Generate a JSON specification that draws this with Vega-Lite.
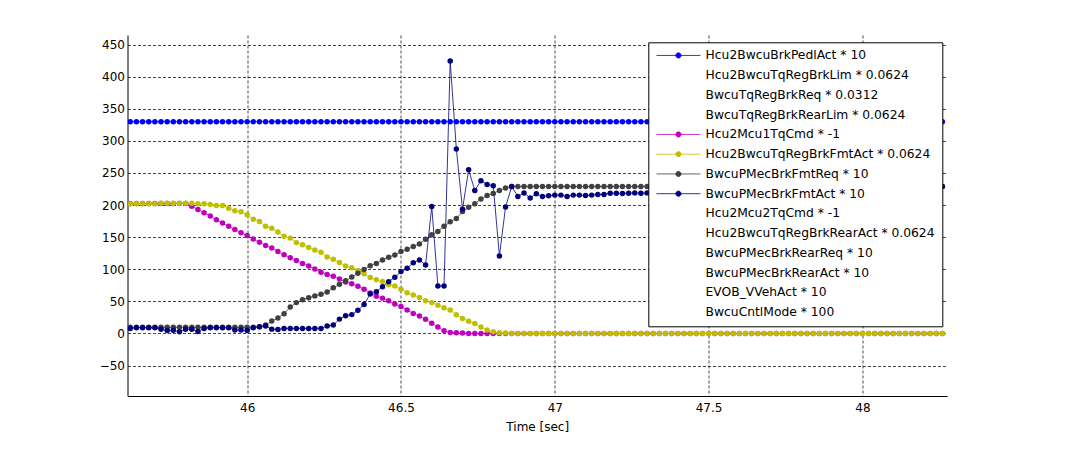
{
"$schema": "https://vega.github.io/schema/vega-lite/v6.json",
"autosize": {"type": "none"},
"padding": {"left": 127.5, "top": 35, "right": 141, "bottom": 54},
"width": 819.5,
"height": 361,
"background": "#ffffff",
"config": {"view": {"stroke": null}, "font": "DejaVu Sans"},
"datasets": {
"names": [
{"k": "a", "name": "Hcu2BwcuBrkPedlAct * 10", "o": 1},
{"k": "m", "name": "Hcu2Mcu1TqCmd * -1", "o": 2},
{"k": "y", "name": "Hcu2BwcuTqRegBrkFmtAct * 0.0624", "o": 3},
{"k": "g", "name": "BwcuPMecBrkFmtReq * 10", "o": 4},
{"k": "n", "name": "BwcuPMecBrkFmtAct * 10", "o": 5}
]
},
"data": {"values": [
{"t":45.62,"a":330,"m":202.5,"y":202,"g":9.5,"n":7.5},
{"t":45.64,"a":330,"m":202.5,"y":202,"g":9.5,"n":9},
{"t":45.66,"a":330,"m":202.5,"y":202,"g":9.5,"n":9},
{"t":45.68,"a":330,"m":202.5,"y":202,"g":9.5,"n":9},
{"t":45.70,"a":330,"m":202.5,"y":202,"g":9.5,"n":9},
{"t":45.72,"a":330,"m":202.5,"y":203,"g":9.5,"n":6.5},
{"t":45.74,"a":330,"m":202.5,"y":203,"g":9.5,"n":4.5},
{"t":45.76,"a":330,"m":202.5,"y":203,"g":9.5,"n":5},
{"t":45.78,"a":330,"m":202.5,"y":203,"g":9.5,"n":2.5},
{"t":45.80,"a":330,"m":202.5,"y":203,"g":9.5,"n":6.5},
{"t":45.82,"a":330,"m":198,"y":203,"g":9.5,"n":6.5},
{"t":45.84,"a":330,"m":193,"y":202,"g":9.5,"n":3},
{"t":45.86,"a":330,"m":188,"y":202,"g":9.5,"n":7.8},
{"t":45.88,"a":330,"m":183,"y":201,"g":9.5,"n":9},
{"t":45.90,"a":330,"m":177,"y":199.5,"g":9.5,"n":9},
{"t":45.92,"a":330,"m":172,"y":199.5,"g":9.5,"n":9},
{"t":45.94,"a":330,"m":167,"y":195,"g":9.5,"n":9},
{"t":45.96,"a":330,"m":162,"y":191,"g":9.5,"n":5.2},
{"t":45.98,"a":330,"m":157,"y":189.5,"g":9.5,"n":5.2},
{"t":46.00,"a":330,"m":152.5,"y":185,"g":9.5,"n":4.5},
{"t":46.02,"a":330,"m":147,"y":178,"g":9.5,"n":8.8},
{"t":46.04,"a":330,"m":142,"y":174.5,"g":10.4,"n":10.5},
{"t":46.06,"a":330,"m":137,"y":167,"g":13,"n":11.5},
{"t":46.08,"a":330,"m":133,"y":164,"g":19.2,"n":6.7},
{"t":46.10,"a":330,"m":127.5,"y":158,"g":24,"n":6},
{"t":46.12,"a":330,"m":122.5,"y":151.5,"g":30.7,"n":7.8},
{"t":46.14,"a":330,"m":118,"y":148.5,"g":41,"n":7.8},
{"t":46.16,"a":330,"m":113.5,"y":141.5,"g":48,"n":7.8},
{"t":46.18,"a":330,"m":109,"y":138,"g":52.5,"n":7.8},
{"t":46.20,"a":330,"m":105,"y":134,"g":55.6,"n":7.8},
{"t":46.22,"a":330,"m":100.5,"y":130,"g":58.5,"n":7.8},
{"t":46.24,"a":330,"m":95.5,"y":126.5,"g":61.2,"n":7.8},
{"t":46.26,"a":330,"m":92,"y":119,"g":64.5,"n":11.4},
{"t":46.28,"a":330,"m":89,"y":115.5,"g":71,"n":13},
{"t":46.30,"a":330,"m":85,"y":110.5,"g":76.6,"n":22.3},
{"t":46.32,"a":330,"m":80,"y":105,"g":82,"n":27.5},
{"t":46.34,"a":330,"m":77.5,"y":102.5,"g":88,"n":29.3},
{"t":46.36,"a":330,"m":73.5,"y":98,"g":93.7,"n":36},
{"t":46.38,"a":330,"m":69,"y":93,"g":99.5,"n":45},
{"t":46.40,"a":330,"m":63,"y":87,"g":105.5,"n":61.4},
{"t":46.42,"a":330,"m":58,"y":83.5,"g":109,"n":65},
{"t":46.44,"a":330,"m":55,"y":81,"g":114.5,"n":72.8},
{"t":46.46,"a":330,"m":51,"y":76,"g":118.8,"n":80.7},
{"t":46.48,"a":330,"m":46,"y":74,"g":122.3,"n":87.5},
{"t":46.50,"a":330,"m":42,"y":69,"g":127.5,"n":96.3},
{"t":46.52,"a":330,"m":36.5,"y":63.5,"g":131.2,"n":101.5},
{"t":46.54,"a":330,"m":31,"y":60,"g":135.3,"n":110.3},
{"t":46.56,"a":330,"m":27,"y":56,"g":139.5,"n":114.5},
{"t":46.58,"a":330,"m":22,"y":51,"g":146.9,"n":106.7},
{"t":46.60,"a":330,"m":16,"y":48,"g":153.6,"n":197.8},
{"t":46.62,"a":330,"m":10,"y":44,"g":158.8,"n":73.9},
{"t":46.64,"a":330,"m":4,"y":40,"g":167,"n":73.9},
{"t":46.66,"a":330,"m":1.5,"y":36.4,"g":174,"n":424.4},
{"t":46.68,"a":330,"m":1,"y":29,"g":179,"n":287.5},
{"t":46.70,"a":330,"m":0.5,"y":23.4,"g":190,"n":193.7},
{"t":46.72,"a":330,"m":0,"y":19,"g":196.5,"n":255},
{"t":46.74,"a":330,"m":0,"y":15.5,"g":202,"n":222.8},
{"t":46.76,"a":330,"m":0,"y":10,"g":209.4,"n":238},
{"t":46.78,"a":330,"m":0,"y":5.2,"g":215,"n":232},
{"t":46.80,"a":330,"m":0,"y":2.5,"g":218,"n":230},
{"t":46.82,"a":330,"m":0,"y":1,"g":222.8,"n":120.8},
{"t":46.84,"a":330,"m":0,"y":0.5,"g":226.6,"n":197},
{"t":46.86,"a":330,"m":0,"y":0,"g":229,"n":229},
{"t":46.88,"a":330,"m":0,"y":0,"g":229,"n":213.5},
{"t":46.90,"a":330,"m":0,"y":0,"g":229,"n":218.7},
{"t":46.92,"a":330,"m":0,"y":0,"g":229,"n":211},
{"t":46.94,"a":330,"m":0,"y":0,"g":229,"n":217.7},
{"t":46.96,"a":330,"m":0,"y":0,"g":229,"n":213.5},
{"t":46.98,"a":330,"m":0,"y":0,"g":229,"n":214.5},
{"t":47.00,"a":330,"m":0,"y":0,"g":229,"n":215.5},
{"t":47.02,"a":330,"m":0,"y":0,"g":229,"n":215.5},
{"t":47.04,"a":330,"m":0,"y":0,"g":229,"n":213.5},
{"t":47.06,"a":330,"m":0,"y":0,"g":229,"n":215.5},
{"t":47.08,"a":330,"m":0,"y":0,"g":229,"n":215.5},
{"t":47.10,"a":330,"m":0,"y":0,"g":229,"n":215},
{"t":47.12,"a":330,"m":0,"y":0,"g":229,"n":215.5},
{"t":47.14,"a":330,"m":0,"y":0,"g":229,"n":216.5},
{"t":47.16,"a":330,"m":0,"y":0,"g":229,"n":216.5},
{"t":47.18,"a":330,"m":0,"y":0,"g":229,"n":218.5},
{"t":47.20,"a":330,"m":0,"y":0,"g":229,"n":218.5},
{"t":47.22,"a":330,"m":0,"y":0,"g":229,"n":218},
{"t":47.24,"a":330,"m":0,"y":0,"g":229,"n":218.5},
{"t":47.26,"a":330,"m":0,"y":0,"g":229,"n":219},
{"t":47.28,"a":330,"m":0,"y":0,"g":229,"n":218.5},
{"t":47.30,"a":330,"m":0,"y":0,"g":229,"n":219},
{"t":47.32,"a":330,"m":0,"y":0,"g":229,"n":219},
{"t":47.34,"a":330,"m":0,"y":0,"g":229,"n":219},
{"t":47.36,"a":330,"m":0,"y":0,"g":229,"n":219.5},
{"t":47.38,"a":330,"m":0,"y":0,"g":229,"n":219.5},
{"t":47.40,"a":330,"m":0,"y":0,"g":229,"n":220},
{"t":47.42,"a":330,"m":0,"y":0,"g":229,"n":220},
{"t":47.44,"a":330,"m":0,"y":0,"g":229,"n":220.5},
{"t":47.46,"a":330,"m":0,"y":0,"g":229,"n":220.5},
{"t":47.48,"a":330,"m":0,"y":0,"g":229,"n":221},
{"t":47.50,"a":330,"m":0,"y":0,"g":229,"n":221},
{"t":47.52,"a":330,"m":0,"y":0,"g":229,"n":221.5},
{"t":47.54,"a":330,"m":0,"y":0,"g":229,"n":221.5},
{"t":47.56,"a":330,"m":0,"y":0,"g":229,"n":222},
{"t":47.58,"a":330,"m":0,"y":0,"g":229,"n":222},
{"t":47.60,"a":330,"m":0,"y":0,"g":229,"n":222.5},
{"t":47.62,"a":330,"m":0,"y":0,"g":229,"n":222.5},
{"t":47.64,"a":330,"m":0,"y":0,"g":229,"n":223},
{"t":47.66,"a":330,"m":0,"y":0,"g":229,"n":223},
{"t":47.68,"a":330,"m":0,"y":0,"g":229,"n":223.5},
{"t":47.70,"a":330,"m":0,"y":0,"g":229,"n":223.5},
{"t":47.72,"a":330,"m":0,"y":0,"g":229,"n":224},
{"t":47.74,"a":330,"m":0,"y":0,"g":229,"n":224},
{"t":47.76,"a":330,"m":0,"y":0,"g":229,"n":224.5},
{"t":47.78,"a":330,"m":0,"y":0,"g":229,"n":224.5},
{"t":47.80,"a":330,"m":0,"y":0,"g":229,"n":225},
{"t":47.82,"a":330,"m":0,"y":0,"g":229,"n":225},
{"t":47.84,"a":330,"m":0,"y":0,"g":229,"n":225.5},
{"t":47.86,"a":330,"m":0,"y":0,"g":229,"n":225.5},
{"t":47.88,"a":330,"m":0,"y":0,"g":229,"n":226},
{"t":47.90,"a":330,"m":0,"y":0,"g":229,"n":226},
{"t":47.92,"a":330,"m":0,"y":0,"g":229,"n":226.5},
{"t":47.94,"a":330,"m":0,"y":0,"g":229,"n":226.5},
{"t":47.96,"a":330,"m":0,"y":0,"g":229,"n":227},
{"t":47.98,"a":330,"m":0,"y":0,"g":229,"n":227},
{"t":48.00,"a":330,"m":0,"y":0,"g":229,"n":227},
{"t":48.02,"a":330,"m":0,"y":0,"g":229,"n":227.5},
{"t":48.04,"a":330,"m":0,"y":0,"g":229,"n":227.5},
{"t":48.06,"a":330,"m":0,"y":0,"g":229,"n":227.5},
{"t":48.08,"a":330,"m":0,"y":0,"g":229,"n":228},
{"t":48.10,"a":330,"m":0,"y":0,"g":229,"n":228},
{"t":48.12,"a":330,"m":0,"y":0,"g":229,"n":228},
{"t":48.14,"a":330,"m":0,"y":0,"g":229,"n":228.5},
{"t":48.16,"a":330,"m":0,"y":0,"g":229,"n":228.5},
{"t":48.18,"a":330,"m":0,"y":0,"g":229,"n":228.5},
{"t":48.20,"a":330,"m":0,"y":0,"g":229,"n":229},
{"t":48.22,"a":330,"m":0,"y":0,"g":229,"n":229},
{"t":48.24,"a":330,"m":0,"y":0,"g":229,"n":229},
{"t":48.26,"a":330,"m":0,"y":0,"g":229,"n":229}
]},
"transform": [
{"fold": ["a", "m", "y", "g", "n"], "as": ["key", "value"]},
{"lookup": "key", "from": {"data": {"name": "names"}, "key": "k", "fields": ["name", "o"]}}
],
"encoding": {
"x": {"field": "t", "type": "quantitative",
 "scale": {"domain": [45.611, 48.275], "nice": false, "zero": false},
 "axis": {"values": [46, 46.5, 47, 47.5, 48], "format": ".3~g", "title": "Time [sec]",
  "titleFont": "DejaVu Sans", "titleFontSize": 12, "titleFontWeight": "normal", "titleColor": "#000", "titlePadding": 8,
  "labelFont": "DejaVu Sans", "labelFontSize": 12, "labelColor": "#000", "labelPadding": 6,
  "ticks": false, "domainColor": "#000", "domainWidth": 1,
  "grid": true, "gridColor": "#000", "gridDash": [3, 2], "gridWidth": 0.8, "gridOpacity": 0.9}},
"y": {"field": "value", "type": "quantitative",
 "scale": {"domain": [-97.5, 465], "nice": false, "zero": false},
 "axis": {"values": [-50, 0, 50, 100, 150, 200, 250, 300, 350, 400, 450], "title": null,
  "labelFont": "DejaVu Sans", "labelFontSize": 12, "labelColor": "#000", "labelPadding": 3,
  "ticks": false, "domainColor": "#000", "domainWidth": 1,
  "grid": true, "gridColor": "#000", "gridDash": [3, 2], "gridWidth": 0.8, "gridOpacity": 0.9}},
"color": {"field": "name", "type": "nominal",
 "scale": {
  "domain": ["Hcu2BwcuBrkPedlAct * 10", "Hcu2BwcuTqRegBrkLim * 0.0624", "BwcuTqRegBrkReq * 0.0312", "BwcuTqRegBrkRearLim * 0.0624", "Hcu2Mcu1TqCmd * -1", "Hcu2BwcuTqRegBrkFmtAct * 0.0624", "BwcuPMecBrkFmtReq * 10", "BwcuPMecBrkFmtAct * 10", "Hcu2Mcu2TqCmd * -1", "Hcu2BwcuTqRegBrkRearAct * 0.0624", "BwcuPMecBrkRearReq * 10", "BwcuPMecBrkRearAct * 10", "EVOB_VVehAct * 10", "BwcuCntlMode * 100"],
  "range": ["#0000FF", "transparent", "transparent", "transparent", "#BF00BF", "#BFBF00", "#404040", "#00007F", "transparent", "transparent", "transparent", "transparent", "transparent", "transparent"]},
 "legend": {"orient": "none", "legendX": 520.8, "legendY": 7.3, "title": null,
  "symbolType": "M-1,0L7.8,0M2.88,0A0.52,0.52,0,1,0,3.92,0A0.52,0.52,0,1,0,2.88,0Z",
  "symbolSize": 100, "symbolStrokeWidth": 0.8, "symbolOpacity": 1,
  "labelFont": "DejaVu Sans", "labelFontSize": 12.3, "labelColor": "#000", "labelLimit": 400, "labelOffset": 38,
  "rowPadding": 6.75, "padding": 7, "strokeColor": "#000", "fillColor": "#ffffff",
  "encode": {"symbols": {"update": {"fill": {"scale": "color", "field": "value"}, "stroke": {"scale": "color", "field": "value"}}}}}}
},
"layer": [
{"mark": {"type": "line", "strokeWidth": 0.8, "clip": true}},
{"mark": {"type": "point", "filled": true, "size": 30, "opacity": 1, "strokeWidth": 0, "clip": true},
 "encoding": {"order": {"field": "o", "type": "quantitative"}}}
]
}
